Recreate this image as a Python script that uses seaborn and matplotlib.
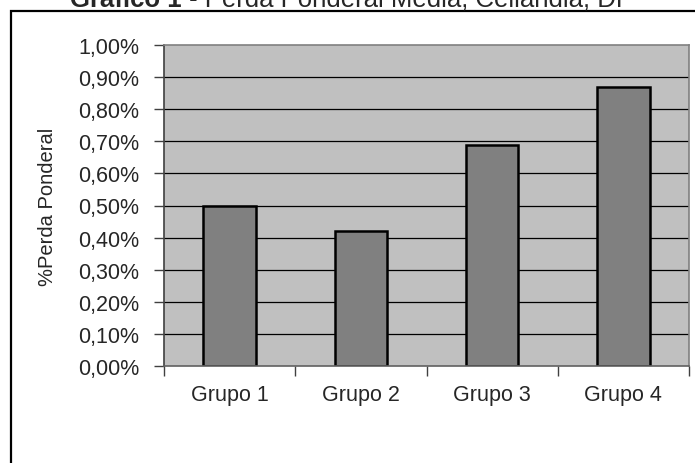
import pandas as pd
import numpy as np
import matplotlib.pyplot as plt
import seaborn as sns
from matplotlib.patches import Rectangle
from matplotlib.ticker import FuncFormatter, FixedLocator

# Dados do gráfico (perda ponderal média, em %)
grupos = ['Grupo 1', 'Grupo 2', 'Grupo 3', 'Grupo 4']
perda_pct = [0.50, 0.42, 0.69, 0.87]
y_ticks = [0.0, 0.1, 0.2, 0.3, 0.4, 0.5, 0.6, 0.7, 0.8, 0.9, 1.0]

df = pd.DataFrame({'grupo': grupos, 'perda': perda_pct})

sns.set_theme(style='white')
plt.rcParams['font.family'] = ['Liberation Sans', 'DejaVu Sans']

W, H = 695, 464
fig = plt.figure(figsize=(W / 100, H / 100), dpi=100)
fig.patch.set_facecolor('white')

# área do gráfico (em pixels da figura)
left, right, top, bottom = 164, 689, 46, 367
ax = fig.add_axes([left / W, 1 - bottom / H, (right - left) / W, (bottom - top) / H])
ax.set_facecolor('#c0c0c0')

for v in y_ticks[1:-1]:
    ax.axhline(v, color='black', lw=0.9, zorder=0.5)

sns.barplot(data=df, x='grupo', y='perda', color='#808080', saturation=1,
            edgecolor='black', linewidth=1.8, width=0.4, ax=ax, zorder=2)

ax.set_ylim(0, 1.0)
ax.set_xlim(-0.5, len(grupos) - 0.5)
ax.set_yticks(y_ticks)
ax.yaxis.set_major_formatter(FuncFormatter(lambda v, p: f"{v:.2f}%".replace('.', ',')))

# x: marcas nos limites das categorias, rótulos no centro
ax.xaxis.set_major_locator(FixedLocator(np.arange(-0.5, len(grupos), 1.0)))
ax.xaxis.set_minor_locator(FixedLocator(np.arange(len(grupos))))
ax.set_xticklabels([], minor=False)
ax.set_xticklabels(grupos, minor=True)
ax.tick_params(axis='x', which='major', direction='out', length=7, width=1, color='#404040', bottom=True)
ax.tick_params(axis='x', which='minor', length=0, pad=13, labelsize=15.5, bottom=True)
ax.tick_params(axis='y', direction='out', length=7, width=1, color='#404040', pad=11, labelsize=15.5, left=True)

ax.set_xlabel('')
ax.set_ylabel('')

for s in ['top', 'right']:
    ax.spines[s].set_color('#808080')
    ax.spines[s].set_linewidth(1.2)
ax.spines['left'].set_color('#404040')
ax.spines['bottom'].set_color('#606060')
for s in ['left', 'bottom']:
    ax.spines[s].set_linewidth(1.2)

fig.text(48 / W, 1 - 207 / H, '%Perda Ponderal', rotation=90,
         ha='center', va='center', fontsize=14.5)

# título (cortado no topo da imagem, como no original)
base_y = 1 - 7 / H
t_bold = fig.text(70 / W, base_y, 'Gráfico 1', fontsize=18.5, fontweight='bold',
                  va='baseline', ha='left')
fig.canvas.draw()
bb = t_bold.get_window_extent()
fig.text(bb.x1 / W, base_y, ' - Perda Ponderal Média, Ceilândia, DF', fontsize=18.5,
         va='baseline', ha='left')

# moldura externa
fig.add_artist(Rectangle((11 / W, -0.05), 1.2, (H - 12) / H + 0.05, transform=fig.transFigure,
                         fill=False, ec='black', lw=1.6))

fig.savefig('out.png', dpi=100)
plt.close(fig)
